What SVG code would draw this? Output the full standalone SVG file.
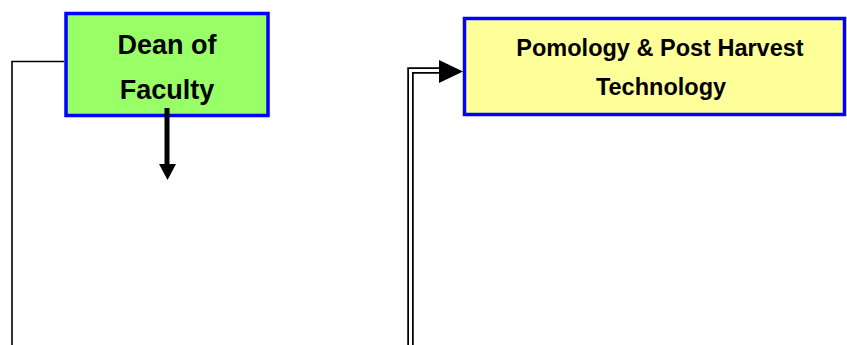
<svg xmlns="http://www.w3.org/2000/svg" width="847" height="345" viewBox="0 0 847 345">
<style>
.box{stroke:#0000FF;stroke-width:3.5}
.t{font-family:"Liberation Sans",Arial,sans-serif;font-weight:bold;fill:#000;text-anchor:middle}
</style>
<rect width="847" height="345" fill="#FFFFFF"/>
<g id="dean">
<rect class="box" x="66" y="13.5" width="202" height="102" fill="#99FF66"/>
<text class="t" x="167" y="54" font-size="27">Dean of</text>
<text class="t" x="167" y="99" font-size="27">Faculty</text>
</g>
<g id="pomology">
<rect class="box" x="464.5" y="18.5" width="380" height="96" fill="#FFFF99"/>
<text class="t" x="660" y="56" font-size="23.5">Pomology &amp; Post Harvest</text>
<text class="t" x="661" y="95" font-size="23.5">Technology</text>
</g>
<g id="connectors">
<path d="M12,345 V61.5 H64" fill="none" stroke="#000" stroke-width="1.6"/>
<line x1="167" y1="108" x2="167" y2="165" stroke="#000" stroke-width="5"/>
<polygon points="159,164 176,164 167.5,180" fill="#000"/>
<path d="M410.5,345 V70.5 H441" fill="none" stroke="#000" stroke-width="6.5"/>
<path d="M410.5,345 V70.5 H441" fill="none" stroke="#FFF" stroke-width="3"/>
<polygon points="439,60 439,83 463,71.5" fill="#000"/>
</g>
</svg>
